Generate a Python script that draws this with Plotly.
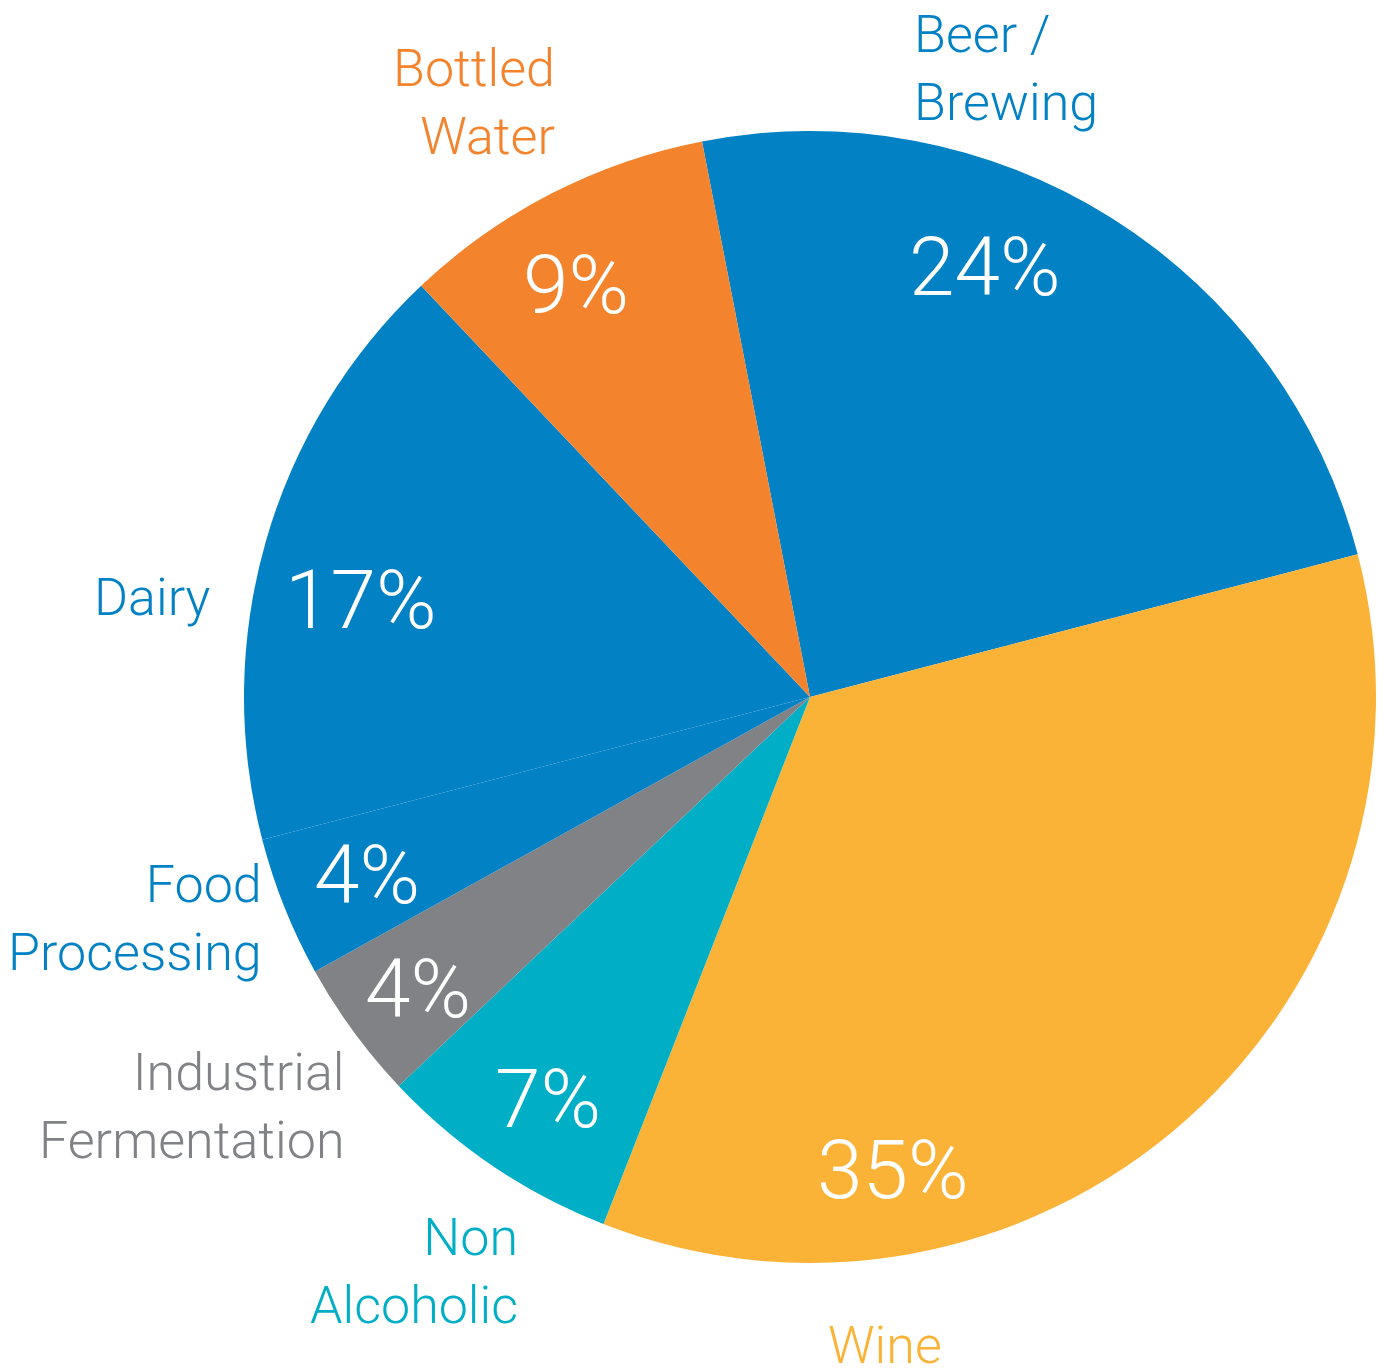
import plotly.graph_objects as go

# ---- data ----
categories = ["Beer / Brewing", "Wine", "Non Alcoholic", "Industrial Fermentation",
              "Food Processing", "Dairy", "Bottled Water"]
values = [24, 35, 7, 4, 4, 17, 9]
colors = ["#0281C4", "#FBB337", "#00AEC5", "#808285", "#0281C4", "#0281C4", "#F3832C"]
label_text = ["Beer /<br>Brewing", "Wine", "Non<br>Alcoholic", "Industrial<br>Fermentation",
              "Food<br>Processing", "Dairy", "Bottled<br>Water"]

# ---- layout / style ----
OFF = 8  # page body margin
W, H = 1386 - OFF, 1369 - OFF
CX, CY, R = 810, 697, 566
FONT = "Roboto"

# label placement (reference pixel positions, anchor)
label_pos = {
    "Beer / Brewing": (912, 68, "left"),
    "Wine": (826, 1345, "left"),
    "Non Alcoholic": (520, 1271, "right"),
    "Industrial Fermentation": (346, 1106, "right"),
    "Food Processing": (264, 918, "right"),
    "Dairy": (212, 598, "right"),
    "Bottled Water": (557, 102, "right"),
}
pct_pos = {
    "Beer / Brewing": (985, 267),
    "Wine": (893, 1170),
    "Non Alcoholic": (548, 1099),
    "Industrial Fermentation": (418, 989),
    "Food Processing": (367, 875),
    "Dairy": (361, 600),
    "Bottled Water": (576, 285),
}


def px(x):
    return (x - OFF) / W


def py(y):
    return 1 - (y - OFF) / H


fig = go.Figure(go.Pie(
    labels=categories,
    values=values,
    marker=dict(colors=colors, line=dict(width=0)),
    sort=False,
    direction="clockwise",
    rotation=-11,
    textinfo="none",
    hoverinfo="label+percent",
    showlegend=False,
    domain=dict(x=[px(CX - R), px(CX + R)], y=[py(CY + R), py(CY - R)]),
))

annotations = []
total = sum(values)
for cat, lab, val, col in zip(categories, label_text, values, colors):
    x, y, anchor = label_pos[cat]
    annotations.append(dict(
        x=px(x), y=py(y), xref="paper", yref="paper",
        text=lab, showarrow=False, xanchor=anchor, yanchor="middle", align=anchor,
        font=dict(family=FONT, size=52, color=col, weight=300),
    ))
    x2, y2 = pct_pos[cat]
    annotations.append(dict(
        x=px(x2), y=py(y2), xref="paper", yref="paper",
        text=f"{round(val / total * 100)}%", showarrow=False,
        xanchor="center", yanchor="middle",
        font=dict(family=FONT, size=82, color="white", weight=300),
    ))

fig.update_layout(
    width=W, height=H,
    margin=dict(l=0, r=0, t=0, b=0),
    paper_bgcolor="white", plot_bgcolor="white",
    annotations=annotations,
)

fig.write_html("out.html")
